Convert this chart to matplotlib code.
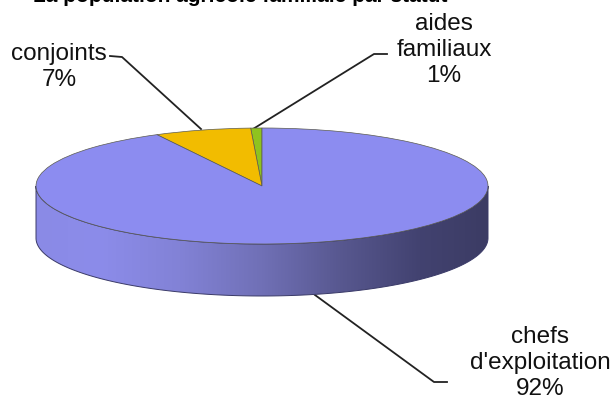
#!/usr/bin/env python

import matplotlib
matplotlib.use('Agg')
import matplotlib.pyplot as plt
import numpy as np
from matplotlib.patches import Polygon

categories = ["aides\nfamiliaux", "conjoints", "chefs\nd'exploitation"]
shares = [0.8, 6.9, 92.3]
title = "La population agricole familiale par statut"
colors = ['#8fc31f', '#f2bc00', '#8c8cf0']

W, H = 613, 400
CX, CY, RX, RY, DEPTH = 262, 186, 226, 58, 52

plt.rcParams['font.family'] = ['Liberation Sans', 'DejaVu Sans']

fig = plt.figure(figsize=(W / 100, H / 100), dpi=100)

# background axes in pixel coordinates, for the side of the disc and the leaders
bg = fig.add_axes([0, 0, 1, 1])
bg.set_xlim(0, W)
bg.set_ylim(H, 0)
bg.axis('off')

t = np.radians(np.linspace(180, 360, 200))
xs = CX + RX * np.cos(t)
ys = CY - RY * np.sin(t)
side = Polygon(np.vstack([np.c_[xs, ys], np.c_[xs[::-1], ys[::-1] + DEPTH]]),
               closed=True, facecolor='none', edgecolor='#3a3a68', linewidth=0.7, zorder=3)
bg.add_patch(side)

stops_x = [36, 100, 180, 262, 340, 420, 488]
stops_c = [(0x8a, 0x8a, 0xe6), (0x8c, 0x8c, 0xea), (0x82, 0x82, 0xd6), (0x70, 0x70, 0xb6),
           (0x58, 0x58, 0x90), (0x42, 0x42, 0x70), (0x3c, 0x3c, 0x64)]
grad_x = np.arange(36, 489)
grad = np.stack([np.interp(grad_x, stops_x, [c[i] for c in stops_c]) for i in range(3)], axis=1) / 255
im = bg.imshow(grad[np.newaxis, :, :], extent=(36, 488, CY + RY + DEPTH, CY), aspect='auto', zorder=2)
im.set_clip_path(side)
bg.set_xlim(0, W)
bg.set_ylim(H, 0)

# leaders
bg.plot([110, 122, 201], [56, 57, 129], color='#222222', lw=1.3, zorder=1)
bg.plot([387, 374, 253], [54, 54, 129], color='#222222', lw=1.3, zorder=1)
bg.plot([315, 434, 447], [295, 382, 382], color='#222222', lw=1.3, zorder=1)

# top face: unit pie stretched over the bounding box of the ellipse
top = fig.add_axes([(CX - RX) / W, 1 - (CY + RY) / H, 2 * RX / W, 2 * RY / H])
wedges, _ = top.pie(shares, colors=colors, startangle=90, counterclock=True,
                    wedgeprops={'edgecolor': '#5a5a50', 'linewidth': 0.5})
top.set_aspect('auto')
top.set_xlim(-1, 1)
top.set_ylim(-1, 1)
top.set_zorder(5)
top.patch.set_visible(False)

label_kw = dict(ha='center', va='center', fontsize=17.5, linespacing=1.25, color='#111111', zorder=6)
bg.text(444, 50, f"{categories[0]}\n{round(shares[0])}%", **label_kw)
bg.text(59, 67, f"{categories[1]}\n{round(shares[1])}%", **label_kw)
bg.text(540, 363, f"{categories[2]}\n{round(shares[2])}%", **label_kw)

# title is cut by the top edge of the picture
bg.text(33, 2, title, ha='left', va='baseline', fontsize=15, fontweight='bold', color='black')

fig.savefig('out.png', dpi=100)
